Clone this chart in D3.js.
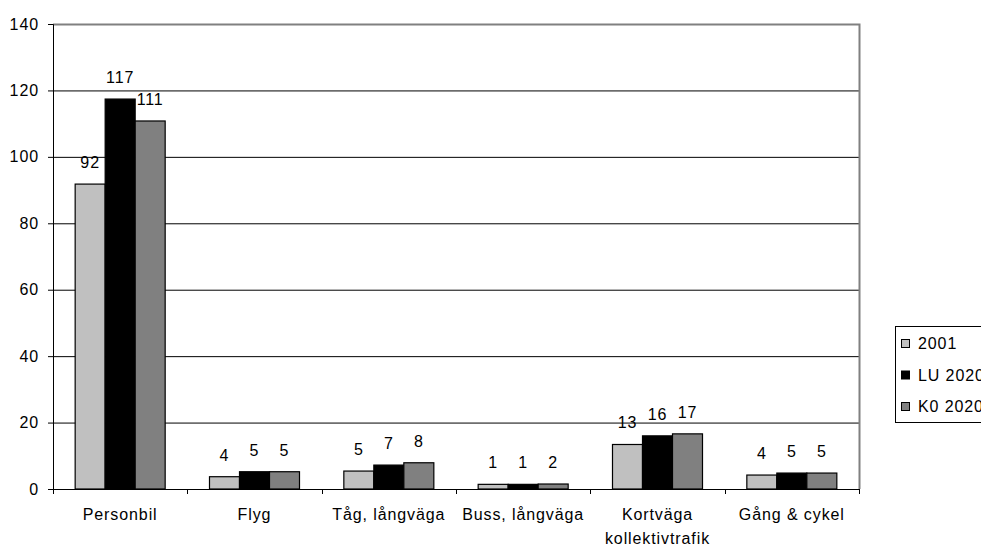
<!DOCTYPE html>
<html>
<head>
<meta charset="utf-8">
<script src="https://cdn.jsdelivr.net/npm/d3@7"></script>
<style>
  body { margin: 0; background: #fff; }
  text { font-family: "Liberation Sans", Arial, sans-serif; fill: #000; letter-spacing: 0.9px; }
</style>
</head>
<body>
<script>
var categories = ["Personbil", "Flyg", "Tåg, långväga", "Buss, långväga", "Kortväga\nkollektivtrafik", "Gång & cykel"];
var seriesNames = ["2001", "LU 2020", "K0 2020"];
var v2001 = [91.8, 3.7, 5.4, 1.4, 13.4, 4.2];
var vLU = [117.4, 5.2, 7.2, 1.4, 16.0, 4.8];
var vK0 = [110.8, 5.2, 7.9, 1.5, 16.6, 4.8];
var yTicks = [0, 20, 40, 60, 80, 100, 120, 140];
var colors = ["#c0c0c0", "#000000", "#808080"];

var series = [v2001, vLU, vK0];

var margin = {top: 24, right: 122, bottom: 58, left: 53},
    width = 981 - margin.left - margin.right,
    height = 547 - margin.top - margin.bottom;

var svg = d3.select("body").append("svg")
    .attr("width", 981)
    .attr("height", 547)
  .append("g")
    .attr("transform", "translate(" + margin.left + "," + margin.top + ")");

var x = d3.scaleBand().domain(categories).range([0, width]);
var groupW = x.bandwidth() * 0.67;
var x1 = d3.scaleBand().domain(seriesNames).range([0, groupW]);
var y = d3.scaleLinear().domain([0, 140]).range([height, 0]);

// gridlines
svg.append("g").selectAll("line")
    .data(yTicks.filter(function(d) { return d > 0 && d < 140; }))
  .enter().append("line")
    .attr("x1", 0).attr("x2", width)
    .attr("y1", function(d) { return y(d) + 0.5; })
    .attr("y2", function(d) { return y(d) + 0.5; })
    .attr("stroke", "#000");

// plot area border (top, right)
svg.append("path")
    .attr("d", "M0," + (y(140) + 0.5) + "H" + (width + 0.5) + "V" + height)
    .attr("fill", "none")
    .attr("stroke", "#808080")
    .attr("stroke-width", 2);

// bars
categories.forEach(function(c, i) {
  var g = svg.append("g")
      .attr("transform", "translate(" + (x(c) + (x.bandwidth() - groupW) / 2) + ",0)");
  seriesNames.forEach(function(s, j) {
    var v = series[j][i];
    g.append("rect")
        .attr("x", x1(s))
        .attr("y", y(v))
        .attr("width", x1.bandwidth())
        .attr("height", height - y(v))
        .attr("fill", colors[j])
        .attr("stroke", "#000")
        .attr("stroke-width", 1.2);
    g.append("text")
        .attr("x", x1(s) + x1.bandwidth() / 2)
        .attr("y", y(v) - 16)
        .attr("text-anchor", "middle")
        .style("font-size", "16px")
        .text(Math.round(v));
  });
});

// y axis
var yAxis = svg.append("g")
    .call(d3.axisLeft(y).tickValues(yTicks).tickSize(5).tickPadding(9));
yAxis.select(".domain").attr("stroke", "#000");
yAxis.selectAll("text").style("font-size", "16px")
    .style("font-family", "Liberation Sans, Arial, sans-serif");

// x axis
var xAxis = svg.append("g")
    .attr("transform", "translate(0," + height + ")");
xAxis.append("line")
    .attr("x1", 0).attr("x2", width)
    .attr("y1", 0.5).attr("y2", 0.5)
    .attr("stroke", "#000");
xAxis.selectAll(".tick")
    .data(d3.range(categories.length + 1))
  .enter().append("line")
    .attr("x1", function(d) { return Math.round(d * x.step()) + 0.5; })
    .attr("x2", function(d) { return Math.round(d * x.step()) + 0.5; })
    .attr("y1", 0).attr("y2", 5)
    .attr("stroke", "#000");
categories.forEach(function(c) {
  var t = xAxis.append("text")
      .attr("x", x(c) + x.bandwidth() / 2)
      .attr("y", 31)
      .attr("text-anchor", "middle")
      .style("font-size", "16px");
  c.split("\n").forEach(function(line, k) {
    t.append("tspan")
        .attr("x", x(c) + x.bandwidth() / 2)
        .attr("dy", k ? 24 : 0)
        .text(line);
  });
});

// legend
var legend = d3.select("svg").append("g").attr("transform", "translate(895,326)");
legend.append("rect")
    .attr("x", 0.5).attr("y", 0.5)
    .attr("width", 110).attr("height", 96)
    .attr("fill", "#fff")
    .attr("stroke", "#000");
seriesNames.forEach(function(s, j) {
  var cy = 17 + j * 31.5;
  legend.append("rect")
      .attr("x", 6.5).attr("y", cy - 3.5)
      .attr("width", 8).attr("height", 8)
      .attr("fill", colors[j])
      .attr("stroke", "#000");
  legend.append("text")
      .attr("x", 23).attr("y", cy + 6)
      .style("font-size", "16px")
      .text(s);
});
</script>
</body>
</html>
